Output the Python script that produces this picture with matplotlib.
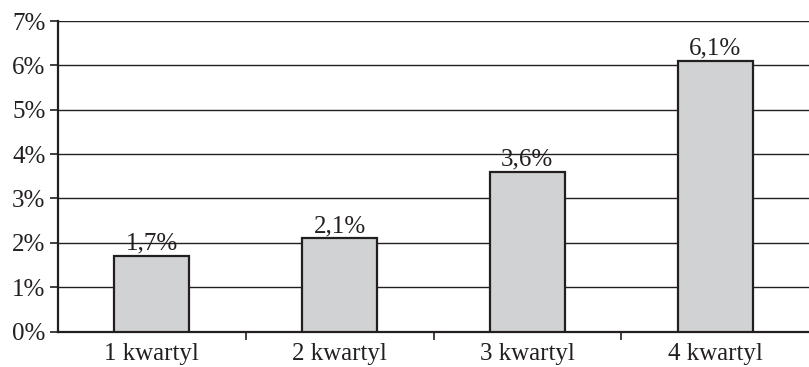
import matplotlib
matplotlib.use("Agg")
import matplotlib.pyplot as plt
from matplotlib.ticker import FixedLocator

categories = ["1 kwartyl", "2 kwartyl", "3 kwartyl", "4 kwartyl"]
values = [1.7, 2.1, 3.6, 6.1]
labels = ["1,7%", "2,1%", "3,6%", "6,1%"]
y_ticks = [0, 1, 2, 3, 4, 5, 6, 7]

plt.rcParams['font.family'] = ['Liberation Serif', 'DejaVu Serif']

fig = plt.figure(figsize=(8.09, 3.67), dpi=100)
ax = fig.add_axes([58 / 809, 1 - 331.5 / 367, 1 - 58 / 809, (331.5 - 21) / 367])

x = list(range(len(categories)))
ax.bar(x, values, width=0.4, color="#d1d2d4", edgecolor="#231f20", linewidth=1.6, zorder=3)

for xi, v, lab in zip(x, values, labels):
    ax.annotate(lab, (xi, v), xytext=(0, 1), textcoords="offset points",
                ha="center", va="bottom", fontsize=18, color="#231f20", zorder=4)

ax.set_xlim(-0.5, len(categories) - 0.5)
ax.set_ylim(0, 7)
ax.set_yticks(y_ticks)
ax.set_yticklabels([f"{t}%" for t in y_ticks])
ax.yaxis.grid(True, color="#231f20", linewidth=1.0)
ax.set_axisbelow(True)

ax.set_xticks(x)
ax.set_xticklabels(categories)
ax.xaxis.set_minor_locator(FixedLocator([0.5, 1.5, 2.5]))
ax.tick_params(axis="x", which="major", length=0, pad=8)
ax.tick_params(axis="x", which="minor", length=6, width=1.2, color="#231f20")
ax.tick_params(axis="y", length=6, width=1.2, color="#231f20", pad=3)
ax.tick_params(labelsize=18, labelcolor="#231f20")

for s in ["top", "right"]:
    ax.spines[s].set_visible(False)
for s in ["left", "bottom"]:
    ax.spines[s].set_color("#231f20")
    ax.spines[s].set_linewidth(1.6)

fig.savefig("out.png", dpi=100)
